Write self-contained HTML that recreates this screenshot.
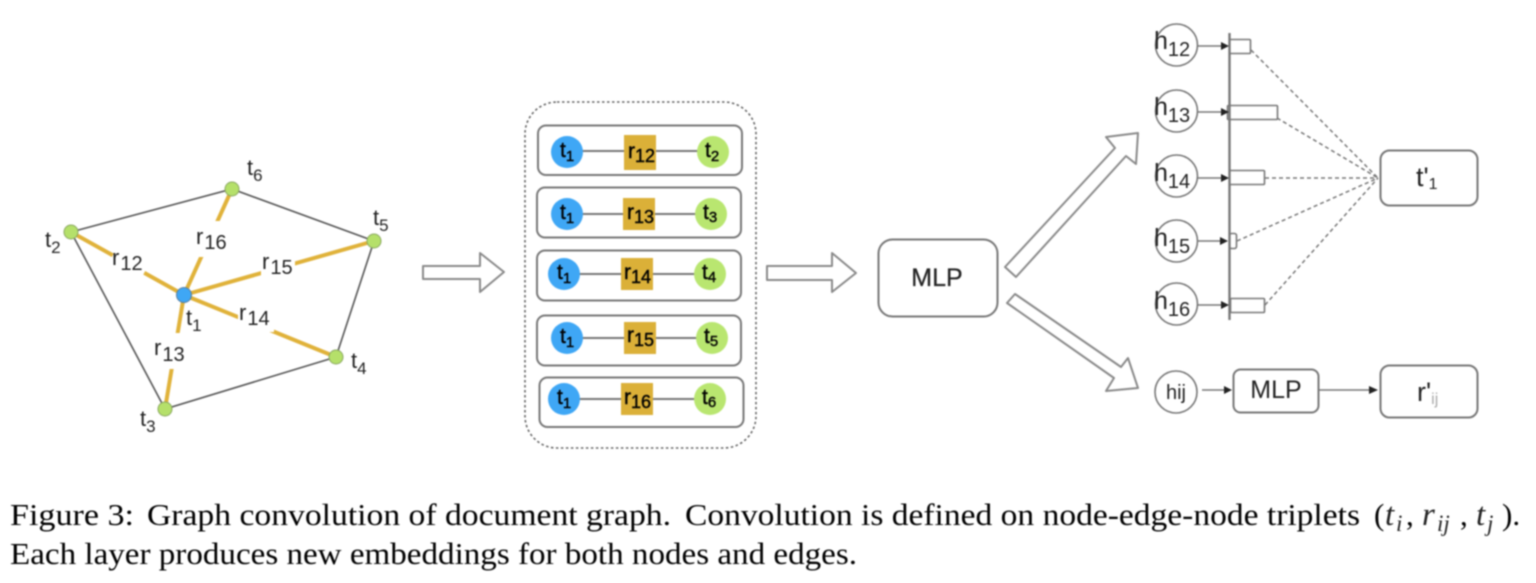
<!DOCTYPE html>
<html><head><meta charset="utf-8">
<style>
html,body{margin:0;padding:0;background:#fff;width:1536px;height:583px;overflow:hidden}
svg{display:block;filter:blur(.7px)}
text{font-family:"Liberation Sans",sans-serif;fill:#222}
.l{font-size:22px}.s{font-size:20px}.t2{font-size:17px}
.n{font-size:21px;fill:#000;stroke:#000;stroke-width:.4}.ns{font-size:15px}
.m{font-size:21px;fill:#000;stroke:#000;stroke-width:.4}.ms{font-size:18px}
.h{font-size:25px}.hs{font-size:20px}
.c{font-family:"Liberation Serif",serif;font-size:31px;fill:#000}
.i{font-family:"Liberation Serif",serif;font-style:italic;font-size:33px;fill:#222}
.is{font-family:"Liberation Serif",serif;font-style:italic;font-size:23px;fill:#222}
.box{fill:#fff;stroke:#777;stroke-width:2}
.arr{fill:#fff;stroke:#8a8a8a;stroke-width:2;stroke-linejoin:round}
.gl{stroke:#555;stroke-width:1.6;fill:none}
.y{stroke:#e0b23a;stroke-width:4;fill:none}
.gn{fill:#b5e06a;stroke:#8aa860;stroke-width:1}
.ln{stroke:#777;stroke-width:2;fill:none}
.d{stroke:#777;stroke-width:1.5;stroke-dasharray:4 3;fill:none}
.c2{fill:#fff;stroke:#777;stroke-width:1.6}
.ah{fill:#222}
</style></head><body>
<svg width="1536" height="583" viewBox="0 0 1536 583" xmlns="http://www.w3.org/2000/svg">
<!-- graph -->
<polygon class="gl" points="71,232 232,189 374,241 336,357 165,409"/>
<line class="y" x1="184" y1="295" x2="71" y2="232"/>
<line class="y" x1="184" y1="295" x2="374" y2="241"/>
<line class="y" x1="184" y1="295" x2="336" y2="357"/>
<line class="y" x1="184" y1="295" x2="165" y2="409"/>
<line class="y" x1="184" y1="295" x2="232" y2="189"/>
<rect x="110" y="252" width="36" height="26" fill="#fff" transform="rotate(28 128 265)"/>
<rect x="193" y="221" width="38" height="36" fill="#fff"/>
<rect x="261" y="252" width="34" height="28" fill="#fff"/>
<rect x="238" y="304" width="36" height="28" fill="#fff"/>
<rect x="150" y="333" width="40" height="36" fill="#fff"/>
<circle class="gn" cx="71" cy="232" r="7"/><circle class="gn" cx="232" cy="189" r="7"/>
<circle class="gn" cx="374" cy="241" r="7"/><circle class="gn" cx="336" cy="357" r="7"/>
<circle class="gn" cx="165" cy="409" r="7"/>
<circle cx="184" cy="295" r="7.5" fill="#3fa7f5" stroke="#5a7f9f"/>
<text class="l" x="112" y="265">r<tspan class="s" dx="1" dy="5">12</tspan></text>
<text class="l" x="196" y="244">r<tspan class="s" dx="1" dy="5">16</tspan></text>
<text class="l" x="262" y="269">r<tspan class="s" dx="1" dy="5">15</tspan></text>
<text class="l" x="239" y="320">r<tspan class="s" dx="1" dy="5">14</tspan></text>
<text class="l" x="154" y="355">r<tspan class="s" dx="1" dy="6">13</tspan></text>
<text class="l" x="45" y="247">t<tspan class="t2" dy="6">2</tspan></text>
<text class="l" x="247" y="175">t<tspan class="t2" dy="6">6</tspan></text>
<text class="l" x="373" y="225">t<tspan class="t2" dy="6">5</tspan></text>
<text class="l" x="351" y="368">t<tspan class="t2" dy="6">4</tspan></text>
<text class="l" x="140" y="426">t<tspan class="t2" dy="6">3</tspan></text>
<text class="l" x="186" y="325">t<tspan class="t2" dy="6">1</tspan></text>
<!-- arrow 1 -->
<polygon class="arr" points="423,266 480,266 480,253 504,272 480,292 480,279 423,279"/>
<!-- triplets -->
<rect x="525" y="102" width="231" height="346" rx="32" fill="none" stroke="#666" stroke-width="1.6" stroke-dasharray="2.5 2.5"/>
<rect class="box" x="538" y="125.500" width="204" height="49.500" rx="8"/>
<rect class="box" x="537" y="187.500" width="204" height="50" rx="8"/>
<rect class="box" x="537" y="250.500" width="204" height="50" rx="8"/>
<rect class="box" x="537" y="315.500" width="204" height="50" rx="8"/>
<rect class="box" x="539.500" y="377.500" width="204" height="49.500" rx="8"/>
<line class="ln" x1="567" y1="151" x2="713" y2="151"/>
<line class="ln" x1="567" y1="214" x2="711" y2="214"/>
<line class="ln" x1="564" y1="274" x2="710" y2="274"/>
<line class="ln" x1="567" y1="338" x2="712" y2="338"/>
<line class="ln" x1="564" y1="399" x2="710" y2="399"/>
<g fill="#dbb038">
<rect x="624" y="135" width="32" height="35"/><rect x="623" y="198" width="32" height="32"/>
<rect x="621" y="258" width="32" height="32"/><rect x="624" y="322" width="32" height="32"/>
<rect x="621" y="383" width="32" height="32"/></g>
<g fill="#3fa7f5"><circle cx="567" cy="152" r="16"/><circle cx="567" cy="214" r="16"/><circle cx="564" cy="274" r="16"/><circle cx="567" cy="338" r="16"/><circle cx="564" cy="399" r="16"/></g>
<g fill="#b9e670"><circle cx="713" cy="152" r="16"/><circle cx="711" cy="214" r="16"/><circle cx="710" cy="274" r="16"/><circle cx="712" cy="338" r="16"/><circle cx="710" cy="399" r="16"/></g>
<text class="n" x="560" y="157">t<tspan class="ns" dy="4">1</tspan></text>
<text class="n" x="560" y="219">t<tspan class="ns" dy="4">1</tspan></text>
<text class="n" x="557" y="279">t<tspan class="ns" dy="4">1</tspan></text>
<text class="n" x="560" y="343">t<tspan class="ns" dy="4">1</tspan></text>
<text class="n" x="557" y="404">t<tspan class="ns" dy="4">1</tspan></text>
<text class="n" x="705" y="157">t<tspan class="ns" dy="4">2</tspan></text>
<text class="n" x="703" y="219">t<tspan class="ns" dy="3">3</tspan></text>
<text class="n" x="702" y="279">t<tspan class="ns" dy="3">4</tspan></text>
<text class="n" x="704" y="343">t<tspan class="ns" dy="3">5</tspan></text>
<text class="n" x="702" y="404">t<tspan class="ns" dy="3">6</tspan></text>
<text class="m" x="628" y="158">r<tspan class="ms" dx="0" dy="4">12</tspan></text>
<text class="m" x="627" y="219">r<tspan class="ms" dx="0" dy="4">13</tspan></text>
<text class="m" x="624" y="279">r<tspan class="ms" dx="0" dy="4">14</tspan></text>
<text class="m" x="627" y="342">r<tspan class="ms" dx="0" dy="4">15</tspan></text>
<text class="m" x="624" y="404">r<tspan class="ms" dx="0" dy="4">16</tspan></text>
<!-- arrow 2 + MLP -->
<polygon class="arr" points="767,266 832,266 832,253 856,273 832,292 832,280 767,280"/>
<rect class="box" x="878.500" y="239.500" width="119" height="77" rx="14"/>
<text class="h" x="937" y="286" text-anchor="middle" style="stroke:#333;stroke-width:.3">MLP</text>
<!-- diagonal arrows -->
<polygon class="arr" points="1005,267 1115,148 1106,137 1138,133 1136,164 1126,156 1016,277"/>
<polygon class="arr" points="1015,294 1121,367 1128,358 1138,388 1106,391 1114,378 1007,303"/>
<!-- attention -->
<g class="d">
<line x1="1251" y1="50" x2="1378" y2="178"/><line x1="1277" y1="118" x2="1378" y2="178"/>
<line x1="1265" y1="178" x2="1378" y2="178"/><line x1="1237" y1="241" x2="1378" y2="178"/>
<line x1="1265" y1="305" x2="1378" y2="178"/></g>
<line x1="1229.500" y1="33" x2="1229.500" y2="320" stroke="#777" stroke-width="2.4"/>
<g class="ln" style="stroke-width:1.6">
<rect x="1229.500" y="39.500" width="21" height="14" rx="1"/>
<rect x="1227.500" y="105.500" width="50" height="14" rx="1"/>
<rect x="1229.500" y="170.500" width="35" height="14" rx="1"/>
<rect x="1229.500" y="233.500" width="7" height="15" rx="2"/>
<rect x="1230.500" y="298.500" width="34" height="14" rx="1"/></g>
<g class="c2"><circle cx="1176.500" cy="45" r="21"/><circle cx="1176.500" cy="111" r="21"/><circle cx="1176.500" cy="176" r="21"/><circle cx="1176.500" cy="241" r="21"/><circle cx="1176.500" cy="304" r="21"/><circle cx="1176" cy="392" r="21"/></g>
<g class="ln" style="stroke-width:1.5"><line x1="1198" y1="46" x2="1224" y2="46"/><line x1="1198" y1="112" x2="1224" y2="112"/><line x1="1198" y1="178" x2="1224" y2="178"/><line x1="1198" y1="241" x2="1224" y2="241"/><line x1="1198" y1="305" x2="1224" y2="305"/><line x1="1202" y1="390" x2="1226" y2="390"/><line x1="1319" y1="390" x2="1372" y2="390"/></g>
<g class="ah"><polygon points="1221,42 1229,46 1221,50"/><polygon points="1221,108 1229,112 1221,116"/><polygon points="1221,174 1229,178 1221,182"/><polygon points="1220,237 1228,241 1220,245"/><polygon points="1221,301 1229,305 1221,309"/><polygon points="1224,386 1232,390 1224,394"/><polygon points="1369,386 1378,390 1369,394"/></g>
<text class="h" x="1154" y="49">h<tspan class="hs" dy="7">12</tspan></text>
<text class="h" x="1154" y="115">h<tspan class="hs" dy="7">13</tspan></text>
<text class="h" x="1154" y="181">h<tspan class="hs" dy="7">14</tspan></text>
<text class="h" x="1154" y="246">h<tspan class="hs" dy="7">15</tspan></text>
<text class="h" x="1154" y="309">h<tspan class="hs" dy="7">16</tspan></text>
<rect class="box" x="1380.500" y="150.500" width="97" height="55" rx="9"/>
<text class="h" x="1416" y="186" style="font-size:27px">t'<tspan dy="3" style="font-size:16px">1</tspan></text>
<text x="1176" y="399" text-anchor="middle" style="font-size:20px">hij</text>
<rect class="box" x="1233.500" y="369.500" width="85" height="43" rx="7"/>
<text class="h" x="1276" y="398" text-anchor="middle">MLP</text>
<rect class="box" x="1380.500" y="365.500" width="97" height="52" rx="9"/>
<text class="h" x="1417" y="401" style="font-size:27px">r'<tspan dy="3" style="font-size:16px;fill:#aaa">ij</tspan></text>
<!-- caption -->
<text class="c" x="10" y="525" textLength="124" lengthAdjust="spacingAndGlyphs">Figure 3:</text>
<text class="c" x="147" y="525" textLength="524" lengthAdjust="spacingAndGlyphs">Graph convolution of document graph.</text>
<text class="c" x="685" y="525" textLength="675" lengthAdjust="spacingAndGlyphs">Convolution is defined on node-edge-node triplets</text>
<text class="c" x="1374" y="525">(</text>
<text class="i" x="1385" y="525">t</text><text class="is" x="1396" y="531">i</text>
<text class="c" x="1406" y="525">,</text>
<text class="i" x="1422" y="525">r</text><text class="is" x="1437" y="531">ij</text>
<text class="c" x="1460" y="525">,</text>
<text class="i" x="1476" y="525">t</text><text class="is" x="1487" y="531">j</text>
<text class="c" x="1502" y="525">).</text>
<text class="c" x="10" y="564" textLength="847" lengthAdjust="spacingAndGlyphs">Each layer produces new embeddings for both nodes and edges.</text>
</svg>
</body></html>
